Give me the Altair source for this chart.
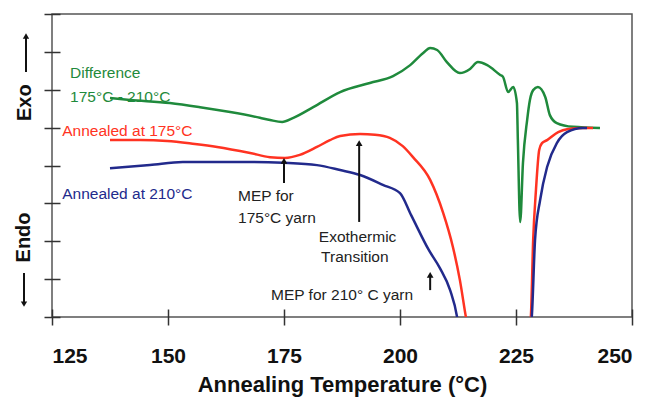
import altair as alt
import pandas as pd

# ---------------- data ----------------
x_ticks = [125, 150, 175, 200, 225, 250]
y_ticks = [0, 1, 2, 3, 4, 5, 6, 7, 8]

green_T = [137.5, 141.8, 150.4, 156.9, 163.4, 169.8, 172.0, 174.6, 176.9, 181.3, 187.1, 193.5,
           198.5, 202.2, 205.0, 206.5, 208.0, 210.1, 212.9, 215.1, 216.8, 218.8, 221.6, 222.2,
           223.3, 224.4, 225.2, 225.4, 225.9, 226.5, 227.4, 228.0, 228.7, 229.7, 231.3, 232.3,
           233.8, 237.3, 243.1]
green_v = [5.78, 5.73, 5.65, 5.54, 5.41, 5.26, 5.20, 5.15, 5.25, 5.54, 5.94, 6.18,
           6.36, 6.65, 6.97, 7.10, 7.05, 6.73, 6.44, 6.55, 6.73, 6.65, 6.39, 6.34,
           5.94, 6.07, 5.65, 4.67, 2.51, 4.07, 5.20, 5.73, 5.99, 6.07, 5.81, 5.33,
           5.12, 5.02, 4.99]

red_T = [137.5, 144.0, 149.8, 155.8, 160.6, 167.7, 172.0, 175.2, 178.4, 182.1, 184.9, 187.1,
         191.4, 194.6, 197.8, 200.6, 202.8, 206.5, 209.3, 211.4, 212.9, 214.2, 214.7, 227.8,
         228.2, 228.7, 229.3, 230.0, 230.6, 231.7, 234.1, 236.0, 239.4, 241.6]
red_v = [4.67, 4.67, 4.65, 4.57, 4.49, 4.33, 4.22, 4.20, 4.28, 4.49, 4.67, 4.78,
         4.83, 4.81, 4.73, 4.51, 4.22, 3.62, 2.75, 1.85, 0.98, 0.0, -0.34, -0.34,
         0.0, 2.03, 3.35, 4.41, 4.59, 4.67, 4.88, 4.96, 4.99, 4.99]

blue_T = [137.5, 146.1, 153.2, 167.7, 174.8, 182.1, 187.1, 191.4, 196.3, 200.0, 202.4, 206.2,
          208.6, 210.8, 212.3, 212.7, 228.0, 228.4, 229.1, 230.2, 231.7, 233.8, 236.0, 239.4,
          240.3]
blue_v = [3.93, 4.01, 4.09, 4.09, 4.07, 4.01, 3.88, 3.75, 3.49, 3.27, 2.69, 1.77,
          1.29, 0.71, 0.0, -0.34, -0.34, 0.0, 2.03, 3.09, 3.96, 4.59, 4.88, 4.99,
          4.99]

# annotation texts (position in data units)
green_text = ["Difference", "175°C - 210°C"]
green_text_T = [128.9, 128.9]
green_text_v = [6.44, 5.81]
red_text = ["Annealed at 175°C"]
red_text_T = [127.2]
red_text_v = [4.91]
blue_text = ["Annealed at 210°C"]
blue_text_T = [127.2]
blue_text_v = [3.25]
black_text = ["MEP for", "175°C yarn", "Exothermic", "Transition", "MEP for 210° C yarn"]
black_text_T = [165.1, 165.1, 182.5, 183.0, 172.2]
black_text_v = [3.19, 2.61, 2.11, 1.58, 0.58]

# annotation arrows (x, base, tip)
arrow_T = [175.0, 191.2, 206.5]
arrow_base = [3.54, 2.51, 0.71]
arrow_tip = [4.12, 4.59, 1.11]

# side labels
side_text = ["Exo", "Endo"]
side_v = [5.66, 2.10]

GREEN = "#1f8a3c"
RED = "#ff3322"
BLUE = "#222a8c"
INK = "#222222"
FONT = "Liberation Sans"

# ---------------- encodings ----------------
x_scale = alt.Scale(domain=[125, 250], nice=False, zero=False)
y_scale = alt.Scale(domain=[0, 8], nice=False, zero=False)

x_axis = alt.Axis(values=x_ticks, title="Annealing Temperature (°C)", domain=False, grid=False,
                  offset=-8, tickSize=16, tickColor="#333333", tickWidth=1.5,
                  labelFont=FONT, labelFontSize=21, labelFontWeight="bold", labelColor="#111111",
                  labelPadding=20, format="d",
                  titleFont=FONT, titleFontSize=22, titleFontWeight="bold", titleColor="#111111",
                  titleY=82, titleBaseline="alphabetic")
y_axis = alt.Axis(values=y_ticks, title=None, labels=False, domain=False, grid=False,
                  offset=-8, tickSize=16, tickColor="#333333", tickWidth=1.5)

X = alt.X("T:Q", scale=x_scale, axis=x_axis)
Y = alt.Y("v:Q", scale=y_scale, axis=y_axis)


def line_layer(T, v, color):
    df = pd.DataFrame({"T": T, "v": v, "i": list(range(len(T)))})
    return alt.Chart(df).mark_line(clip=True, strokeWidth=2.5, color=color,
                                   interpolate="monotone").encode(
        x=X, y=Y, order=alt.Order("i:Q"))


def text_layer(texts, T, v, color):
    df = pd.DataFrame({"T": T, "v": v, "label": texts})
    return alt.Chart(df).mark_text(align="left", baseline="middle", font=FONT,
                                   fontSize=15.5, color=color).encode(
        x=X, y=Y, text="label:N")


lines = [line_layer(green_T, green_v, GREEN),
         line_layer(red_T, red_v, RED),
         line_layer(blue_T, blue_v, BLUE)]

texts = [text_layer(green_text, green_text_T, green_text_v, GREEN),
         text_layer(red_text, red_text_T, red_text_v, RED),
         text_layer(blue_text, blue_text_T, blue_text_v, BLUE),
         text_layer(black_text, black_text_T, black_text_v, INK)]

arrows_df = pd.DataFrame({"T": arrow_T, "v": arrow_base, "v2": arrow_tip})
arrow_lines = alt.Chart(arrows_df).mark_rule(color="#111111", strokeWidth=2).encode(
    x=X, y=Y, y2=alt.Y2("v2:Q"))
heads_df = pd.DataFrame({"T": arrow_T, "v": arrow_tip})
arrow_heads = alt.Chart(heads_df).mark_point(shape="triangle-up", filled=True, size=45,
                                              color="#111111", opacity=1).encode(x=X, y=Y)

# side "Exo" / "Endo" labels with arrows
exo = alt.Chart(pd.DataFrame({"v": [side_v[0]], "label": [side_text[0]]})).mark_text(
    angle=270, align="center", baseline="middle", font=FONT, fontSize=20, fontWeight="bold",
    color="#111111").encode(x=alt.value(-27), y=Y, text="label:N")
endo = alt.Chart(pd.DataFrame({"v": [side_v[1]], "label": [side_text[1]]})).mark_text(
    angle=270, align="center", baseline="middle", font=FONT, fontSize=20, fontWeight="bold",
    color="#111111").encode(x=alt.value(-28.5), y=Y, text="label:N")

exo_arrow = alt.Chart(pd.DataFrame({"v": [6.47], "v2": [7.40]})).mark_rule(
    color="#111111", strokeWidth=2).encode(x=alt.value(-26), y=Y, y2=alt.Y2("v2:Q"))
exo_head = alt.Chart(pd.DataFrame({"v": [7.42]})).mark_point(
    shape="triangle-up", filled=True, size=40, color="#111111", opacity=1).encode(
    x=alt.value(-26), y=Y)
endo_arrow = alt.Chart(pd.DataFrame({"v": [1.16], "v2": [0.36]})).mark_rule(
    color="#111111", strokeWidth=2).encode(x=alt.value(-28), y=Y, y2=alt.Y2("v2:Q"))
endo_head = alt.Chart(pd.DataFrame({"v": [0.34]})).mark_point(
    shape="triangle-down", filled=True, size=40, color="#111111", opacity=1).encode(
    x=alt.value(-28), y=Y)

chart = alt.layer(
    *lines, arrow_lines, arrow_heads, *texts, exo, endo, exo_arrow, exo_head, endo_arrow, endo_head
).properties(
    width=580, height=303,
    autosize=alt.AutoSizeParams(type="none"),
    padding={"left": 52, "top": 14, "right": 20, "bottom": 80},
    background="white",
).configure_view(
    stroke="#555555", strokeWidth=1.5
)

chart.save("out.html", embed_options={"renderer": "svg", "actions": False})
